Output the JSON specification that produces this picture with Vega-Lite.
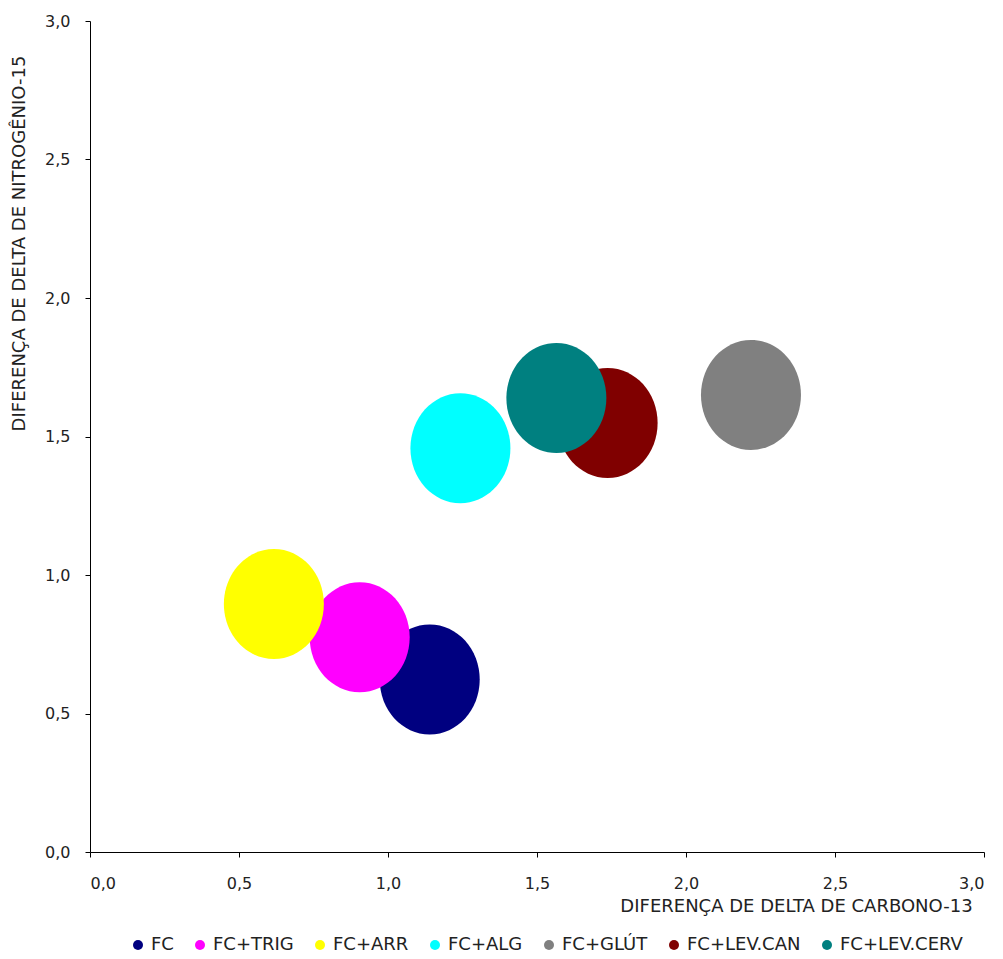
{
  "$schema": "https://vega.github.io/schema/vega-lite/v6.json",
  "width": 894,
  "height": 831,
  "autosize": "none",
  "padding": {"left": 90, "top": 21, "right": 19, "bottom": 107},
  "background": "white",
  "config": {"view": {"stroke": null}, "font": "DejaVu Sans"},
  "data": {"values": [
    {"grupo": "FC", "carbono": 1.14, "nitrogenio": 0.623},
    {"grupo": "FC+TRIG", "carbono": 0.905, "nitrogenio": 0.775},
    {"grupo": "FC+ARR", "carbono": 0.617, "nitrogenio": 0.895},
    {"grupo": "FC+ALG", "carbono": 1.243, "nitrogenio": 1.458},
    {"grupo": "FC+GLÚT", "carbono": 2.218, "nitrogenio": 1.65},
    {"grupo": "FC+LEV.CAN", "carbono": 1.737, "nitrogenio": 1.549},
    {"grupo": "FC+LEV.CERV", "carbono": 1.565, "nitrogenio": 1.639}
  ]},
  "mark": {
    "type": "point",
    "filled": true,
    "opacity": 1,
    "size": 10000,
    "shape": "M0,-1.1A1,1.1 0 1,1 0,1.1A1,1.1 0 1,1 0,-1.1Z"
  },
  "encoding": {
    "x": {
      "field": "carbono",
      "type": "quantitative",
      "scale": {"domain": [0, 3], "nice": false},
      "axis": {
        "values": [0, 0.5, 1, 1.5, 2, 2.5, 3],
        "labelExpr": "replace(format(datum.value, '.1f'), '.', ',')",
        "grid": false,
        "domainColor": "#000000",
        "tickColor": "#000000",
        "tickSize": 5,
        "labelPadding": 18,
        "labelFontSize": 16,
        "labelColor": "#222222",
        "title": "DIFERENÇA DE DELTA DE CARBONO-13",
        "titleFontSize": 18,
        "titleFontWeight": "normal",
        "titleColor": "#222222",
        "titleX": 706,
        "titleY": 54,
        "titleAlign": "center",
        "titleBaseline": "middle"
      }
    },
    "y": {
      "field": "nitrogenio",
      "type": "quantitative",
      "scale": {"domain": [0, 3], "nice": false},
      "axis": {
        "values": [0, 0.5, 1, 1.5, 2, 2.5, 3],
        "labelExpr": "replace(format(datum.value, '.1f'), '.', ',')",
        "grid": false,
        "domainColor": "#000000",
        "tickColor": "#000000",
        "tickSize": 5,
        "labelPadding": 15,
        "labelFontSize": 16,
        "labelColor": "#222222",
        "title": "DIFERENÇA DE DELTA DE NITROGÊNIO-15",
        "titleFontSize": 18,
        "titleFontWeight": "normal",
        "titleColor": "#222222",
        "titleAngle": -90,
        "titleX": -71,
        "titleY": 222,
        "titleAlign": "center",
        "titleBaseline": "middle"
      }
    },
    "color": {
      "field": "grupo",
      "type": "nominal",
      "scale": {
        "domain": ["FC", "FC+TRIG", "FC+ARR", "FC+ALG", "FC+GLÚT", "FC+LEV.CAN", "FC+LEV.CERV"],
        "range": ["#000080", "#FF00FF", "#FFFF00", "#00FFFF", "#808080", "#800000", "#008080"]
      },
      "legend": {
        "title": null,
        "orient": "none",
        "legendX": 39,
        "legendY": 915,
        "direction": "horizontal",
        "columns": 7,
        "columnPadding": 17,
        "symbolType": "circle",
        "symbolSize": 100,
        "symbolStrokeWidth": 0,
        "labelFontSize": 18,
        "labelColor": "#222222",
        "labelOffset": 4,
        "labelLimit": 300,
        "encode": {"symbols": {"update": {"shape": {"value": "circle"}}}}
      }
    }
  }
}
